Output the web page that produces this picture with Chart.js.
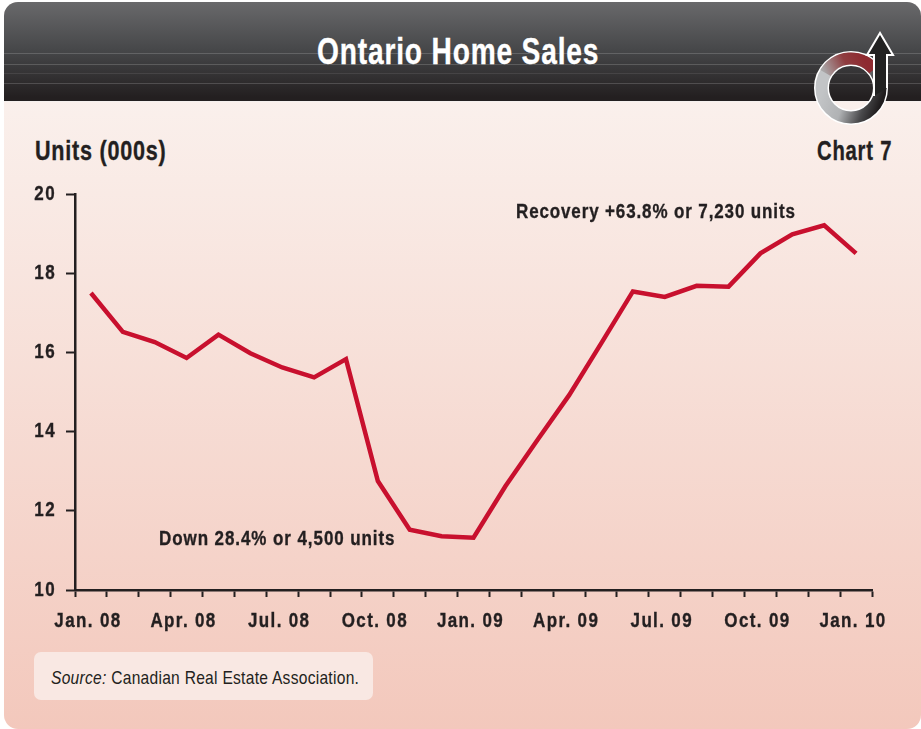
<!DOCTYPE html>
<html>
<head>
<meta charset="utf-8">
<style>
html,body{margin:0;padding:0;background:#fff;width:921px;height:729px;overflow:hidden}
#card{position:absolute;left:4px;top:2px;width:917px;height:727px;border-radius:14px;overflow:hidden;background:linear-gradient(#faf0ec 98px,#f3c8bc 100%)}
#head{position:absolute;left:0;top:0;width:100%;height:99px;background:linear-gradient(#69696b,#454648 50%,#231f20 96%);border-bottom:1px solid #f5f0ee}
.hl{position:absolute;left:0;width:100%;height:1px;background:rgba(255,255,255,.17)}
.t{position:absolute;font-family:"Liberation Sans",sans-serif;white-space:nowrap;color:#231f20;font-weight:bold;line-height:1;transform-origin:left center;-webkit-text-stroke:.35px currentColor}
canvas{position:absolute;left:0;top:0}
#src{position:absolute;left:34px;top:652px;width:339px;height:48px;background:#f9e8e3;border-radius:7px}
svg{position:absolute;left:0;top:0}
</style>
</head>
<body>
<div id="card"><div id="head">
<div class="hl" style="top:51px"></div><div class="hl" style="top:62px"></div><div class="hl" style="top:71px;opacity:.5"></div><div class="hl" style="top:81px"></div>
</div></div>
<div class="t" style="left:317px;top:33px;font-size:37px;color:#fff;letter-spacing:1.1px;transform:scaleX(.76)">Ontario Home Sales</div>
<svg width="921" height="729">
<defs>
<linearGradient id="ringG" gradientUnits="userSpaceOnUse" x1="825" y1="85" x2="880" y2="105">
<stop offset="0" stop-color="#c2c4c6"/><stop offset=".4" stop-color="#b0b2b4"/><stop offset=".75" stop-color="#4a4a4c"/><stop offset="1" stop-color="#1f1c1d"/></linearGradient>
<linearGradient id="redG" gradientUnits="userSpaceOnUse" x1="828" y1="80" x2="866" y2="62">
<stop offset="0" stop-color="#a9a6a7"/><stop offset=".55" stop-color="#8f3d40"/><stop offset="1" stop-color="#8e2a30"/></linearGradient>
</defs>
<circle cx="851" cy="88" r="29.5" fill="none" stroke="#fff" stroke-width="15"/>
<circle cx="851" cy="88" r="29.5" fill="none" stroke="url(#ringG)" stroke-width="12"/>
<path d="M825.5 73 A29.5 29.5 0 0 1 874 69.5" fill="none" stroke="url(#redG)" stroke-width="12"/>
<path d="M874 96 V55 H867 L880 33 L893 55 H887 V88" fill="#222" stroke="#fff" stroke-width="2" stroke-linejoin="miter"/>
</svg>
<div class="t" style="left:35px;top:138px;font-size:27px;letter-spacing:.94px;transform:scaleX(.8)">Units (000s)</div>
<div class="t" style="left:817px;top:138px;font-size:27px;letter-spacing:1.05px;transform:scaleX(.75)">Chart 7</div>
<canvas id="c" width="921" height="729"></canvas>
<div class="t" style="left:516px;top:201px;font-size:20px;letter-spacing:1.02px;transform:scaleX(.85)">Recovery +63.8% or 7,230 units</div>
<div class="t" style="left:159px;top:528px;font-size:20px;letter-spacing:1.08px;transform:scaleX(.85)">Down 28.4% or 4,500 units</div>
<div id="src"></div>
<div class="t" style="left:51px;top:668px;font-size:19px;font-weight:normal;letter-spacing:.33px;transform:scaleX(.82);-webkit-text-stroke:0"><i>Source:</i> Canadian Real Estate Association.</div>
<script src="https://cdn.jsdelivr.net/npm/chart.js@4"></script>
<script>
const categories = ["Jan. 08","Feb. 08","Mar. 08","Apr. 08","May 08","Jun. 08","Jul. 08","Aug. 08","Sep. 08","Oct. 08","Nov. 08","Dec. 08","Jan. 09","Feb. 09","Mar. 09","Apr. 09","May 09","Jun. 09","Jul. 09","Aug. 09","Sep. 09","Oct. 09","Nov. 09","Dec. 09","Jan. 10"];
const sales = [17.5,16.52,16.26,15.86,16.45,15.98,15.62,15.37,15.83,12.75,11.52,11.36,11.32,12.62,13.78,14.92,16.22,17.54,17.4,17.68,17.66,18.5,18.98,19.21,18.5];
const ink = "#231f20";
const font = {family:'"Liberation Sans",sans-serif',size:20,weight:'bold'};
const squeeze = 0.85;
const condense = {id:'condense',beforeDraw(ch){
  const ctx = ch.ctx;
  if(ctx._condensed) return;
  ctx._condensed = true;
  ctx.letterSpacing = '1.6px';
  const fill = ctx.fillText.bind(ctx);
  const stroke = ctx.strokeText.bind(ctx);
  ctx.fillText = function(text,x,y,w){
    ctx.save();
    ctx.translate(x,y);
    ctx.scale(squeeze,1);
    ctx.strokeStyle = ctx.fillStyle;
    ctx.lineWidth = 0.35;
    stroke(text,0,0,w);
    fill(text,0,0,w);
    ctx.restore();
  };
}};
new Chart(document.getElementById('c'),{
  type:'line',
  data:{labels:categories,datasets:[{data:sales,borderColor:'#c8102e',borderWidth:4.5,pointRadius:0,tension:0,borderJoinStyle:'miter',borderCapStyle:'butt',fill:false}]},
  plugins:[condense],
  options:{
    responsive:false,animation:false,
    layout:{padding:{left:0,right:49,top:194,bottom:0}},
    plugins:{legend:{display:false},tooltip:{enabled:false},title:{display:false}},
    scales:{
      x:{type:'category',offset:true,
        afterFit(s){s.height=139;},
        grid:{offset:true,drawOnChartArea:false,drawTicks:true,tickLength:7,tickWidth:2,tickColor:ink},
        border:{display:true,color:ink,width:2.5},
        ticks:{autoSkip:false,maxRotation:0,minRotation:0,color:ink,font,padding:12,labelOffset:-3,
          callback(v,i){return i%3===0?categories[i]:'';}}
      },
      y:{min:10,max:20,
        afterFit(s){s.width=75;},
        grid:{drawOnChartArea:false,tickLength:9,tickWidth:2,tickColor:ink},
        border:{display:true,color:ink,width:2.5},
        ticks:{stepSize:2,color:ink,font,padding:10}
      }
    }
  }
});
</script>
</body>
</html>
